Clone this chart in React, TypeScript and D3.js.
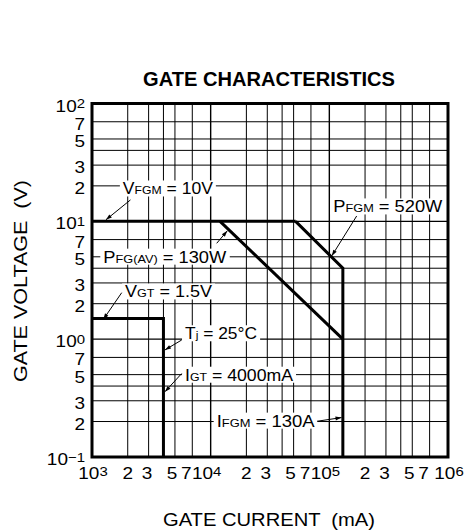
import React, { useEffect, useRef } from 'react';
import * as d3 from 'd3';

type Pt = [number, number];

// gate current (mA), gate voltage (V)
const vfgmLine: Pt[] = [[1e3, 10], [5.2e4, 10]];
const pfgmLine: Pt[] = [[5.2e4, 10], [1.3e5, 4], [1.3e5, 0.1]];
const pfgAvLine: Pt[] = [[1.2e4, 10], [1.3e5, 1]];
const vgtLine: Pt[] = [[1e3, 1.5], [4e3, 1.5], [4e3, 0.1]];

const xDecades = [1e3, 1e4, 1e5, 1e6];
const xExponents = ['3', '4', '5', '6'];
const yDecades = [0.1, 1, 10, 100];
const yExponents = ['\u22121', '0', '1', '2'];
const gridMantissas = [2, 3, 4, 5, 7];
const labelMantissas = [2, 3, 5, 7];

// annotations: label parts, text start (I, V), leader from -> to (I, V), printed width
const notes = [
  { main: 'V', sub: 'FGM', rest: ' = 10V', at: [1.82e3, 16.9], from: [2.11e3, 15.2], to: [1.31e3, 10.3], width: 90 },
  { main: 'P', sub: 'FGM', rest: ' = 520W', at: [1.08e5, 11.9], from: [1.7e5, 11.1], to: [1.05e5, 5.1], width: 109 },
  { main: 'P', sub: 'FG(AV)', rest: ' = 130W', at: [1.245e3, 4.46], from: [1.124e4, 6.51], to: [1.38e4, 8.3], width: 123 },
  { main: 'V', sub: 'GT', rest: ' = 1.5V', at: [1.9e3, 2.26], from: [1.78e3, 2.48], to: [1.245e3, 1.47], width: 87 },
  { main: 'T', sub: 'j', rest: ' = 25\u00b0C', at: [6.08e3, 0.998], from: [5.7e3, 0.984], to: [4.12e3, 0.81], width: 72 },
  { main: 'I', sub: 'GT', rest: ' = 4000mA', at: [6.08e3, 0.444], from: [5.7e3, 0.511], to: [4.12e3, 0.358], width: 108 },
  { main: 'I', sub: 'FGM', rest: ' = 130A', at: [1.124e4, 0.181], from: [7.87e4, 0.201], to: [1.266e5, 0.216], width: 98 },
];

const FONT = "'Liberation Sans', Arial, Helvetica, sans-serif";

export default function App() {
  const svgRef = useRef<SVGSVGElement | null>(null);

  useEffect(() => {
    if (!svgRef.current) return;
    const svg = d3.select(svgRef.current);
    svg.selectAll('*').remove();
    svg.attr('font-family', FONT);

    const x = d3.scaleLog().domain([1e3, 1e6]).range([92, 448]);
    const y = d3.scaleLog().domain([0.1, 100]).range([457, 103.5]);

    const xGrid = xDecades.slice(0, -1).flatMap(d => gridMantissas.map(m => m * d)).concat(xDecades.slice(1, -1));
    const yGrid = yDecades.slice(0, -1).flatMap(d => gridMantissas.map(m => m * d)).concat(yDecades.slice(1, -1));

    const grid = svg.append('g').attr('stroke', '#000');
    grid.selectAll('line.v').data(xGrid).enter().append('line')
      .attr('x1', d => x(d)).attr('x2', d => x(d))
      .attr('y1', y(0.1)).attr('y2', y(100))
      .attr('stroke-width', d => (xDecades.includes(d) ? 1.4 : 1));
    grid.selectAll('line.h').data(yGrid).enter().append('line')
      .attr('y1', d => y(d)).attr('y2', d => y(d))
      .attr('x1', x(1e3)).attr('x2', x(1e6))
      .attr('stroke-width', d => (yDecades.includes(d) ? 1.4 : 1));

    // boundary curves
    const line = d3.line<Pt>().x(d => x(d[0])).y(d => y(d[1]));
    [vfgmLine, pfgmLine, pfgAvLine, vgtLine].forEach(pts => {
      svg.append('path').attr('d', line(pts)!)
        .attr('fill', 'none').attr('stroke', '#000').attr('stroke-width', 3)
        .attr('stroke-linejoin', 'miter');
    });

    // frame
    svg.append('rect')
      .attr('x', x(1e3)).attr('y', y(100))
      .attr('width', x(1e6) - x(1e3)).attr('height', y(0.1) - y(100))
      .attr('fill', 'none').attr('stroke', '#000').attr('stroke-width', 3);

    // annotations with white boxes
    notes.forEach(n => {
      const g = svg.append('g');
      const t = g.append('text')
        .attr('x', x(n.at[0])).attr('y', y(n.at[1]))
        .attr('font-size', 16.5).attr('fill', '#000')
        .attr('textLength', n.width).attr('lengthAdjust', 'spacingAndGlyphs')
        .style('white-space', 'pre');
      t.append('tspan').text(n.main);
      t.append('tspan').attr('font-size', 11.5).text(n.sub);
      t.append('tspan').text(n.rest);
      const bb = (t.node() as SVGTextElement).getBBox();
      g.insert('rect', 'text')
        .attr('x', bb.x - 3).attr('y', bb.y + 1)
        .attr('width', bb.width + 6).attr('height', bb.height - 2)
        .attr('fill', '#fff');

      const x1 = x(n.from[0]), y1 = y(n.from[1]);
      const x2 = x(n.to[0]), y2 = y(n.to[1]);
      svg.append('line')
        .attr('x1', x1).attr('y1', y1).attr('x2', x2).attr('y2', y2)
        .attr('stroke', '#000').attr('stroke-width', 1);
      const ang = Math.atan2(y2 - y1, x2 - x1);
      const len = 6, half = 2;
      const bx = x2 - len * Math.cos(ang), by = y2 - len * Math.sin(ang);
      svg.append('path')
        .attr('d', `M${x2},${y2}L${bx - half * Math.sin(ang)},${by + half * Math.cos(ang)}L${bx + half * Math.sin(ang)},${by - half * Math.cos(ang)}Z`)
        .attr('fill', '#000');
    });

    // tick labels are printed a little wider than the font
    const stretch = 1.15;
    const tickText = (px: number, py: number, anchor: string) =>
      svg.append('text')
        .attr('transform', `translate(${px},${py}) scale(${stretch},1)`)
        .attr('text-anchor', anchor).attr('font-size', 16.5);

    // x tick labels
    const xBase = 479.3;
    const mantNudge: Record<number, number> = { 2: 0, 3: -1.5, 5: -3, 7: -6 };
    xDecades.forEach((d, i) => {
      const t = tickText(x(d) + (i === 0 || i === xDecades.length - 1 ? 1 : -4), xBase, 'middle');
      t.append('tspan').text('10');
      t.append('tspan').attr('font-size', 13).attr('dy', -3.3).text(xExponents[i]);
      if (i < xDecades.length - 1) {
        labelMantissas.forEach(m => {
          tickText(x(m * d) + mantNudge[m], xBase, 'middle').text(String(m));
        });
      }
    });

    // y tick labels
    const yRight = 85;
    yDecades.forEach((d, i) => {
      const t = tickText(yRight, y(d) + 8, 'end');
      t.append('tspan').text('10');
      t.append('tspan').attr('font-size', 13).attr('dy', -3.3).text(yExponents[i]);
      if (i < yDecades.length - 1) {
        labelMantissas.forEach(m => {
          tickText(yRight, y(m * d) + 8, 'end').text(String(m));
        });
      }
    });

    // titles
    svg.append('text')
      .attr('x', 269).attr('y', 86).attr('text-anchor', 'middle')
      .attr('font-size', 19.5).attr('font-weight', 'bold')
      .attr('textLength', 252).attr('lengthAdjust', 'spacingAndGlyphs')
      .text('GATE CHARACTERISTICS');

    svg.append('text')
      .attr('x', 269).attr('y', 526).attr('text-anchor', 'middle')
      .attr('font-size', 18).style('white-space', 'pre')
      .attr('textLength', 212).attr('lengthAdjust', 'spacingAndGlyphs')
      .text('GATE CURRENT  (mA)');

    svg.append('text')
      .attr('transform', 'translate(26.7,281) rotate(-90)')
      .attr('text-anchor', 'middle')
      .attr('font-size', 18).style('white-space', 'pre')
      .attr('textLength', 202).attr('lengthAdjust', 'spacingAndGlyphs')
      .text('GATE VOLTAGE  (V)');
  }, []);

  return (
    <svg
      ref={svgRef}
      width={468}
      height={532}
      style={{ position: 'absolute', left: 0, top: 0, background: '#fff' }}
    />
  );
}
